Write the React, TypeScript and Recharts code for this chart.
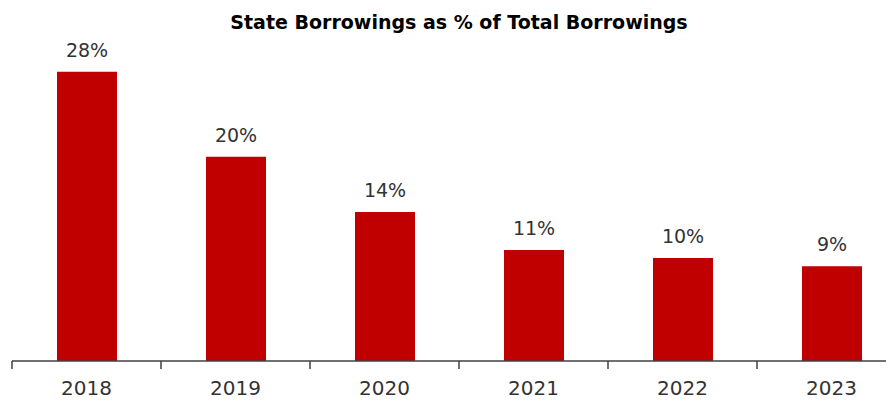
import React from "react";
import { BarChart, Bar, XAxis, YAxis, LabelList } from "recharts";

const years = ["2018", "2019", "2020", "2021", "2022", "2023"];
const shares = [28.0, 19.76, 14.42, 10.74, 9.96, 9.18];
const title = "State Borrowings as % of Total Borrowings";

const data = years.map((y, i) => ({ year: y, share: shares[i] }));

const AXIS_COLOR = "#404040";

const Tick = (props: any) => {
  const { x, y, payload, index } = props;
  const off = payload && payload.offset ? payload.offset : 74.5;
  const axisY = y - 20;
  return (
    <g>
      <line x1={x - off} x2={x - off} y1={axisY} y2={axisY + 8} stroke={AXIS_COLOR} strokeWidth={1.5} />
      {index === years.length - 1 ? (
        <line x1={x + off} x2={x + off} y1={axisY} y2={axisY + 8} stroke={AXIS_COLOR} strokeWidth={1.5} />
      ) : null}
      <text x={x} y={y + 14} textAnchor="middle" fill="#333" fontSize={20} fontFamily="DejaVu Sans">
        {payload.value}
      </text>
    </g>
  );
};

export default function App() {
  return (
    <div style={{ position: "relative", width: 886, height: 393, overflow: "hidden" }}>
      <div
        style={{
          position: "absolute",
          left: 0,
          width: 902,
          top: 2,
          textAlign: "center",
          fontFamily: "DejaVu Sans",
          fontWeight: "bold",
          fontSize: 19,
          lineHeight: "24px",
          color: "#000",
        }}
      >
        {title}
      </div>
      <BarChart
        width={900}
        height={393}
        data={data}
        margin={{ top: 43, right: 2, bottom: 0, left: 4 }}
        barCategoryGap="20%"
      >
        <YAxis hide domain={[0, 30]} />
        <XAxis
          dataKey="year"
          height={40}
          axisLine={{ stroke: AXIS_COLOR, strokeWidth: 1.5 }}
          tickLine={false}
          tickSize={8}
          tickMargin={12}
          tick={<Tick />}
          interval={0}
        />
        <Bar dataKey="share" fill="#C00000" barSize={60} isAnimationActive={false}>
          <LabelList
            dataKey="share"
            position="top"
            offset={15}
            formatter={(v: any) => `${Math.round(Number(v))}%`}
            fill="#333"
            fontSize={19}
            fontFamily="DejaVu Sans"
          />
        </Bar>
      </BarChart>
    </div>
  );
}
